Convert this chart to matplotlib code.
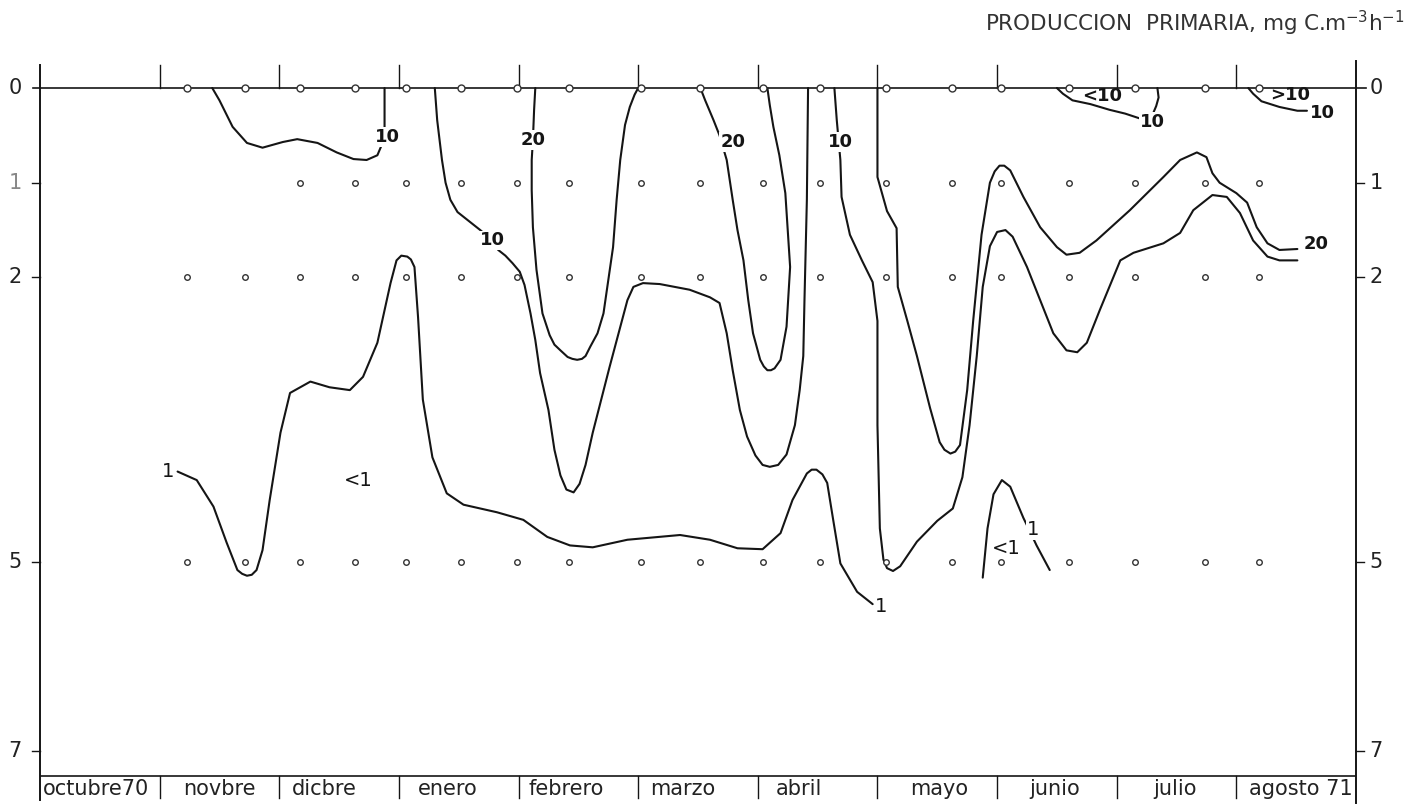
import matplotlib
matplotlib.use("Agg")
import matplotlib.pyplot as plt

plt.rcParams["font.family"] = ["DejaVu Sans"]
plt.rcParams["mathtext.default"] = "regular"

# sampling dates (months counted from 1 Oct 1970) and sampled depths (m)
station_month = [1.23, 1.71, 2.17, 2.63, 3.06, 3.52, 3.99, 4.42, 5.02, 5.52,
                 6.04, 6.52, 7.07, 7.62, 8.03, 8.60, 9.15, 9.74, 10.19]
depth_rows = [0, 1, 2, 5]
first_station = [0, 2, 0, 0]   # no 1 m samples in october/november

months = ["octubre70", "novbre", "dicbre", "enero", "febrero", "marzo",
          "abril", "mayo", "junio", "julio", "agosto 71"]
depth_ticks = [0, 1, 2, 5, 7]

# isolines of primary production, x = month, y = depth (m)
iso10_nov_x = [1.44, 1.50, 1.61, 1.73, 1.86, 2.03, 2.15, 2.32, 2.48, 2.62,
               2.73, 2.82, 2.85, 2.88, 2.88, 2.88]
iso10_nov_y = [0, 0.13, 0.41, 0.58, 0.63, 0.57, 0.54, 0.58, 0.68, 0.75,
               0.76, 0.71, 0.62, 0.41, 0.13, 0]

iso10_ene_x = [3.30, 3.32, 3.36, 3.39, 3.43, 3.49, 3.57, 3.68, 3.78, 3.83,
               3.89, 3.95, 4.01, 4.05, 4.10, 4.14, 4.18, 4.25, 4.30, 4.35,
               4.40, 4.46, 4.51, 4.56, 4.62, 4.76, 4.91, 4.96, 5.04, 5.18,
               5.43, 5.60, 5.68, 5.74, 5.79, 5.85, 5.91, 5.98, 6.04, 6.10,
               6.17, 6.24, 6.31, 6.35, 6.38, 6.39, 6.41, 6.42]
iso10_ene_y = [0, 0.34, 0.76, 1.00, 1.18, 1.31, 1.39, 1.50, 1.61, 1.71,
               1.77, 1.85, 1.94, 2.08, 2.38, 2.66, 3.01, 3.40, 3.82, 4.09,
               4.24, 4.27, 4.18, 3.98, 3.64, 2.95, 2.24, 2.10, 2.06, 2.07,
               2.13, 2.21, 2.27, 2.59, 2.98, 3.40, 3.68, 3.88, 3.98, 4.00,
               3.98, 3.87, 3.56, 3.19, 2.83, 2.24, 1.18, 0]

iso20_feb_x = [4.14, 4.13, 4.12, 4.11, 4.11, 4.12, 4.15, 4.20, 4.26, 4.30,
               4.35, 4.41, 4.45, 4.49, 4.53, 4.56, 4.60, 4.66, 4.71, 4.75,
               4.79, 4.82, 4.85, 4.89, 4.93, 4.97, 5.00]
iso20_feb_y = [0, 0.23, 0.55, 0.76, 1.08, 1.47, 1.92, 2.38, 2.61, 2.71,
               2.77, 2.84, 2.86, 2.87, 2.86, 2.83, 2.73, 2.59, 2.38, 2.03,
               1.68, 1.18, 0.76, 0.39, 0.20, 0.07, 0]

iso20_abr_x = [5.52, 5.56, 5.63, 5.68, 5.74, 5.79, 5.83, 5.88, 5.92, 5.96,
               6.02, 6.05, 6.08, 6.11, 6.14, 6.19, 6.24, 6.27, 6.25, 6.23,
               6.18, 6.13, 6.10, 6.08]
iso20_abr_y = [0, 0.13, 0.34, 0.50, 0.76, 1.18, 1.50, 1.82, 2.24, 2.59,
               2.87, 2.94, 2.98, 2.98, 2.96, 2.87, 2.52, 1.89, 1.50, 1.11,
               0.71, 0.41, 0.18, 0]

iso10_may_x = [6.64, 6.66, 6.69, 6.70, 6.77, 6.87, 6.96, 7.00, 7.00, 7.02,
               7.05, 7.08, 7.13, 7.19, 7.33, 7.50, 7.63, 7.71, 7.77, 7.83,
               7.88, 7.94, 8.00, 8.07, 8.13, 8.25, 8.36, 8.47, 8.58, 8.67,
               8.75, 8.86, 9.03, 9.14, 9.39, 9.53, 9.64, 9.80, 9.92, 10.03,
               10.14, 10.26, 10.36, 10.51]
iso10_may_y = [0, 0.34, 0.76, 1.15, 1.55, 1.82, 2.05, 2.46, 3.56, 4.65,
               4.98, 5.07, 5.10, 5.05, 4.79, 4.57, 4.44, 4.11, 3.56, 2.83,
               2.10, 1.67, 1.52, 1.50, 1.57, 1.89, 2.24, 2.59, 2.77, 2.79,
               2.69, 2.34, 1.82, 1.74, 1.64, 1.53, 1.29, 1.13, 1.15, 1.32,
               1.61, 1.78, 1.82, 1.82]

iso20_may_x = [7.00, 7.00, 7.08, 7.16, 7.17, 7.25, 7.33, 7.44, 7.52, 7.56,
               7.61, 7.65, 7.69, 7.75, 7.80, 7.87, 7.94, 7.98, 8.02, 8.06,
               8.11, 8.22, 8.36, 8.50, 8.58, 8.69, 8.83, 9.11, 9.39, 9.53,
               9.67, 9.75, 9.80, 9.86, 10.00, 10.09, 10.17, 10.26, 10.36, 10.51]
iso20_may_y = [0, 0.94, 1.30, 1.48, 2.10, 2.46, 2.83, 3.38, 3.74, 3.82,
               3.86, 3.84, 3.77, 3.19, 2.46, 1.55, 1.00, 0.88, 0.82, 0.82,
               0.87, 1.15, 1.47, 1.68, 1.76, 1.74, 1.61, 1.29, 0.94, 0.76,
               0.68, 0.73, 0.90, 1.00, 1.11, 1.21, 1.47, 1.64, 1.71, 1.70]

iso1_x = [1.15, 1.31, 1.45, 1.56, 1.65, 1.69, 1.73, 1.77, 1.81, 1.86,
          1.92, 2.01, 2.09, 2.26, 2.42, 2.59, 2.70, 2.82, 2.93, 2.98,
          3.02, 3.07, 3.10, 3.13, 3.16, 3.20, 3.28, 3.40, 3.54, 3.82,
          4.04, 4.24, 4.43, 4.62, 4.91, 5.35, 5.60, 5.83, 6.04, 6.19,
          6.29, 6.41, 6.45, 6.49, 6.54, 6.58, 6.63, 6.69, 6.83, 6.96]
iso1_y = [4.05, 4.14, 4.42, 4.80, 5.09, 5.13, 5.15, 5.14, 5.09, 4.88,
          4.35, 3.64, 3.22, 3.10, 3.16, 3.19, 3.05, 2.69, 2.06, 1.82,
          1.77, 1.78, 1.81, 1.89, 2.42, 3.29, 3.90, 4.28, 4.40, 4.48,
          4.56, 4.74, 4.83, 4.85, 4.77, 4.72, 4.77, 4.86, 4.87, 4.70,
          4.35, 4.07, 4.03, 4.03, 4.08, 4.17, 4.56, 5.02, 5.32, 5.45]

iso1_jun_x = [7.88, 7.92, 7.97, 8.04, 8.11, 8.22, 8.27, 8.33, 8.44]
iso1_jun_y = [5.17, 4.65, 4.29, 4.14, 4.21, 4.54, 4.67, 4.83, 5.09]

iso10_jun_x = [8.50, 8.55, 8.63, 8.78, 8.94, 9.07, 9.19, 9.28, 9.33, 9.35, 9.34]
iso10_jun_y = [0, 0.06, 0.13, 0.17, 0.23, 0.27, 0.32, 0.34, 0.19, 0.10, 0]

iso10_ago_x = [10.10, 10.14, 10.21, 10.36, 10.51, 10.59]
iso10_ago_y = [0, 0.06, 0.14, 0.20, 0.24, 0.24]

isolines = [(iso10_nov_x, iso10_nov_y), (iso10_ene_x, iso10_ene_y),
            (iso20_feb_x, iso20_feb_y), (iso20_abr_x, iso20_abr_y),
            (iso10_may_x, iso10_may_y), (iso20_may_x, iso20_may_y),
            (iso1_x, iso1_y), (iso1_jun_x, iso1_jun_y),
            (iso10_jun_x, iso10_jun_y), (iso10_ago_x, iso10_ago_y)]

# isoline labels: text, month, depth, boxed (line interrupted under it)
iso_labels = [("10", 2.90, 0.52, True), ("10", 3.78, 1.61, True),
              ("20", 4.12, 0.55, True), ("20", 5.79, 0.57, True),
              ("10", 6.69, 0.57, True), ("<10", 8.88, 0.08, False),
              ("10", 9.30, 0.36, True), (">10", 10.45, 0.07, False),
              ("10", 10.72, 0.26, False), ("20", 10.67, 1.65, False),
              ("1", 1.07, 4.05, False), ("<1", 2.66, 4.14, False),
              ("1", 7.03, 5.47, False), ("<1", 8.08, 4.86, False),
              ("1", 8.30, 4.66, True)]

# month label centres inside the bottom strip
month_label_x = [0.51, 1.50, 2.38, 3.41, 4.40, 5.37, 6.34, 7.52, 8.48, 9.49, 10.50]

ink = "#151515"

fig = plt.figure(figsize=(14.24, 8.07), dpi=100)
ax = fig.add_axes([40 / 1424, 2 / 807, 1316 / 1424, 747 / 807])
ax.set_xlim(0, 11)
ax.set_ylim(7.571, -0.317)
ax.axis("off")

# frame
ax.plot([0, 0], [-0.24, 7.52], color=ink, lw=1.4, clip_on=False)
ax.plot([11, 11], [-0.29, 7.55], color=ink, lw=1.4, clip_on=False)
ax.plot([-0.06, 11.08], [0, 0], color=ink, lw=1.2, clip_on=False)
ax.plot([0, 11], [7.26, 7.26], color=ink, lw=1.2)
for m in range(1, 11):
    ax.plot([m, m], [0, -0.24], color=ink, lw=1.0)
    ax.plot([m, m], [7.26, 7.50], color=ink, lw=1.0)

for d in depth_ticks:
    if d > 0:
        ax.plot([-0.07, 0], [d, d], color=ink, lw=1.0, clip_on=False)
        ax.plot([11, 11.07], [d, d], color=ink, lw=1.0, clip_on=False)
    col = "#888888" if d == 1 else "#222222"
    ax.text(-0.21, d, str(d), ha="center", va="center", fontsize=15, color=col)
    ax.text(11.17, d, str(d), ha="center", va="center", fontsize=15, color="#222222")

for i, name in enumerate(months):
    ha = "center"
    x = month_label_x[i]
    if i == 0:
        ha, x = "left", 0.02
    elif i == len(months) - 1:
        ha, x = "right", 10.97
    ax.text(x, 7.405, name, ha=ha, va="center", fontsize=15, color="#222222")

# isolines
for xs, ys in isolines:
    ax.plot(xs, ys, color=ink, lw=1.5, solid_joinstyle="round",
            solid_capstyle="round", zorder=2)

# sample points
for row, start in zip(depth_rows, first_station):
    xs = station_month[start:]
    ms = 5 if row == 0 else 4
    ax.plot(xs, [row] * len(xs), "o", ms=ms, mfc="white", mec="#333333",
            mew=1.0, zorder=3, clip_on=False)

for text, x, y, boxed in iso_labels:
    bold = text.strip("<>") in ("10", "20")
    kw = dict(ha="center", va="center", fontsize=13 if bold else 14,
              fontweight="bold" if bold else "normal", color=ink, zorder=4)
    if boxed:
        kw["bbox"] = dict(fc="white", ec="none", pad=0.6)
    ax.text(x, y, text, **kw)

fig.text(1405 / 1424, 1 - 23 / 807, "PRODUCCION  PRIMARIA, mg C.m$^{-3}$h$^{-1}$",
         ha="right", va="center", fontsize=15.5, color="#333333")

fig.savefig("out.png", dpi=100)
